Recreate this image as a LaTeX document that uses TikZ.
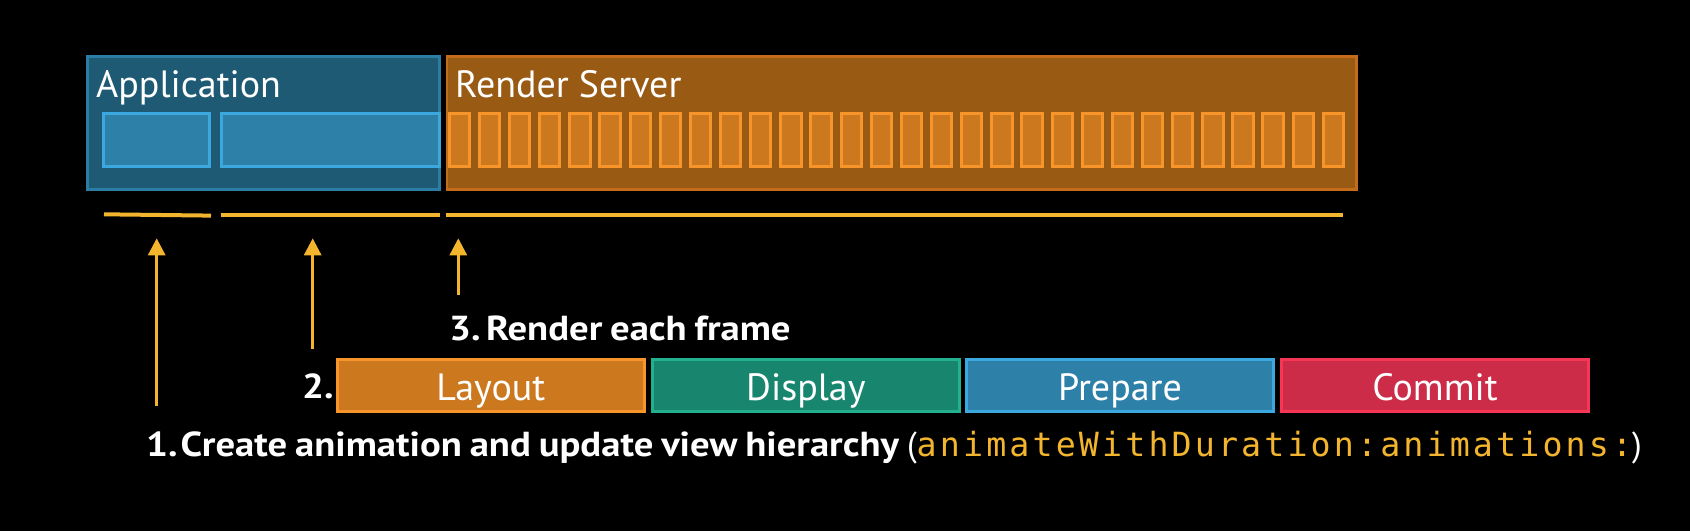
\documentclass[tikz,border=0pt]{standalone}
\usepackage{fontspec}
\setmainfont{PT Sans}
\newfontfamily\codefont[LetterSpace=9.4]{DejaVu Sans Mono}
\newfontfamily\labelfont[FakeStretch=1.115,WordSpace=0.8]{PT Sans Bold}
\usetikzlibrary{arrows.meta}
\definecolor{appfill}{HTML}{1E5A74}
\definecolor{appborder}{HTML}{2B7DA5}
\definecolor{bluefill}{HTML}{2D80A8}
\definecolor{blueborder}{HTML}{3BA9E0}
\definecolor{rsfill}{HTML}{995A14}
\definecolor{rsborder}{HTML}{C46C1A}
\definecolor{orfill}{HTML}{CC781E}
\definecolor{orborder}{HTML}{F7952A}
\definecolor{gnfill}{HTML}{18866E}
\definecolor{gnborder}{HTML}{22B08F}
\definecolor{rdfill}{HTML}{CC2C48}
\definecolor{rdborder}{HTML}{F73656}
\definecolor{ylw}{HTML}{F2B52D}
\begin{document}
\begin{tikzpicture}[x=1pt,y=-1pt,
  panel/.style={rectangle, line width=2.5pt, inner sep=0pt, minimum height=133.2pt},
  cell/.style={rectangle, line width=3pt, inner sep=0pt, minimum height=53pt},
  stage/.style={rectangle, line width=3pt, inner sep=0pt, minimum width=306.7pt, minimum height=52pt,
     text=white, font=\fontsize{38}{40}\selectfont, text height=29.8pt, text depth=0pt},
  title/.style={inner sep=0pt, anchor=base west, text=white, font=\fontsize{38}{40}\selectfont},
  boldtxt/.style={inner sep=0pt, anchor=base west, text=white, font=\fontsize{34.7}{36}\labelfont},
  yline/.style={draw=ylw, line width=4pt},
  uparrow/.style={draw=ylw, line width=3pt, -{Triangle[length=17pt,width=17pt]}}
]
\fill[black] (0,0) rectangle (1690,531);
\useasboundingbox (0,0) rectangle (1690,531);

% top panels
\node[panel, draw=appborder, fill=appfill, minimum width=352.2pt] (app) at (263.35,122.85) {};
\node[panel, draw=rsborder, fill=rsfill, minimum width=909.5pt] (rs) at (901.7,122.85) {};

% application work cells
\node[cell, draw=blueborder, fill=bluefill, minimum width=106pt] (cellA) at (156.8,139.7) {};
\node[cell, draw=blueborder, fill=bluefill, minimum width=218pt] (cellB) at (330.2,139.7) {};

% render frames
\foreach \i in {0,...,29}{
  \node[cell, draw=orborder, fill=orfill, minimum width=20.3pt] (f\i) at ({459.35+30.14*\i},139.7) {};
}

% titles
\node[title] (apptitle) at (96,97.3) {Application};
\node[title] (rstitle) at (455,97.3) {Render Server};

% timing lines
\draw[yline] (104,214.3) -- (211,215.6);
\draw[yline] (220.7,215) -- (439.7,215);
\draw[yline] (445.7,215) -- (1343.3,215);

% arrows
\coordinate (a1b) at (156.7,405.7);
\coordinate (a1t) at (156.7,238.3);
\coordinate (a2b) at (312.7,349);
\coordinate (a2t) at (312.7,238.3);
\coordinate (a3b) at (458.3,295);
\coordinate (a3t) at (458.3,238.3);
\draw[uparrow] (a1b) -- (a1t);
\draw[uparrow] (a2b) -- (a2t);
\draw[uparrow] (a3b) -- (a3t);

% stages
\node[stage, draw=orborder, fill=orfill] (layout) at (490.85,385.8) {Layout};
\node[stage, draw=gnborder, fill=gnfill] (display) at (805.85,385.8) {Display};
\node[stage, draw=blueborder, fill=bluefill, minimum width=307pt] (prepare) at (1120,385.8) {Prepare};
\node[stage, draw=rdborder, fill=rdfill, minimum width=307pt] (commit) at (1435,385.8) {Commit};

% labels
\node[boldtxt] (t3) at (449,340.7) {3.\hspace{-5.7pt} Render each frame};
\node[boldtxt] (t2) at (302,398.3) {2.};
\node[boldtxt] (t1) at (146,456) {1.\hspace{-8pt} Create animation and update view hierarchy {\normalfont(}{\fontsize{33.3}{36}\codefont\color{ylw}animateWithDuration:animations:}{\normalfont)}};
\end{tikzpicture}
\end{document}
